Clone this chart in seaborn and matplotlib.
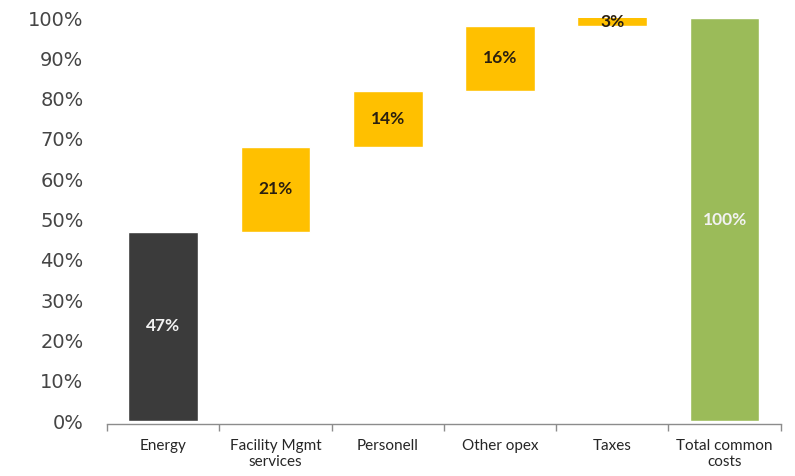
import matplotlib
matplotlib.use("Agg")
import matplotlib.pyplot as plt
import seaborn as sns
import numpy as np

# Cost breakdown (share of total common costs, %)
categories = ["Energy", "Facility Mgmt\nservices", "Personell", "Other opex", "Taxes", "Total common\ncosts"]
values = [47, 21, 14, 16, 3, 100]
bar_colors = ["#3b3b3b", "#ffc000", "#ffc000", "#ffc000", "#ffc000", "#9bbb59"]
label_colors = ["#f2f2f2", "#2a1f10", "#2a1f10", "#2a1f10", "#2a1f10", "#f2f2f2"]
y_ticks = [0, 10, 20, 30, 40, 50, 60, 70, 80, 90, 100]

# Waterfall bases: each step starts where the previous one ended; the total starts at zero
bottoms = []
running = 0
for i, v in enumerate(values):
    if i == len(values) - 1:
        bottoms.append(0)
    else:
        bottoms.append(running)
        running += v

sns.set_theme(style="white")
plt.rcParams["font.family"] = ["Lato", "DejaVu Sans"]

fig = plt.figure(figsize=(7.95, 4.76), dpi=100)
ax = fig.add_axes([0.1346, 0.1155, 0.8474, 0.8465])

sns.barplot(x=categories, y=values, hue=categories, palette=bar_colors,
            width=0.62, saturation=1, legend=False, ax=ax)
for patch, b in zip(ax.patches, bottoms):
    patch.set_y(b)

ax.set_ylim(0, 100)
ax.set_xlim(-0.5, len(categories) - 0.5)

# Value labels centred on the visible part of each bar
for i, (v, b) in enumerate(zip(values, bottoms)):
    top = min(b + v, 100)
    ax.text(i, (b + top) / 2, f"{v}%", ha="center", va="center",
            fontsize=12.5, fontweight="bold", color=label_colors[i])

ax.set_yticks(y_ticks)
ax.set_yticklabels([f"{t}%" for t in y_ticks], family=["DejaVu Sans"], fontsize=14, color="#454545")
ax.tick_params(axis="y", length=0, pad=17)

ax.set_xticks(range(len(categories)))
ax.set_xticklabels(categories, fontsize=9.5, color="#404040", linespacing=1.25)
ax.set_xticks(np.arange(-0.5, len(categories)), minor=True)
ax.tick_params(axis="x", which="major", length=0, pad=11)
ax.tick_params(axis="x", which="minor", length=5, width=1, color="#8c8c8c", bottom=True, direction="out")

for side in ["left", "right", "top"]:
    ax.spines[side].set_visible(False)
ax.spines["bottom"].set_color("#8c8c8c")
ax.spines["bottom"].set_linewidth(1)
ax.spines["bottom"].set_position(("outward", 2))
ax.set_xlabel("")
ax.set_ylabel("")

fig.savefig("out.png", dpi=100)
